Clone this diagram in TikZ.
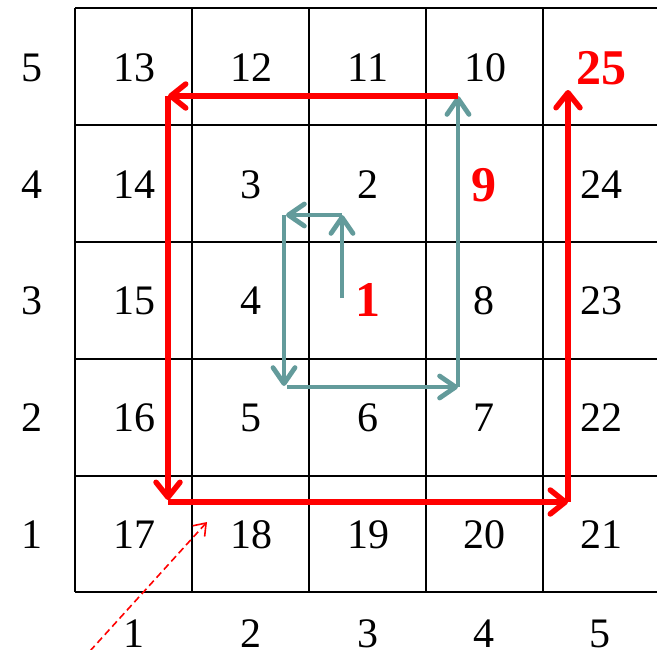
\documentclass[tikz,border=0pt]{standalone}
\usepackage{fontspec}
\setmainfont{Liberation Serif}
\usetikzlibrary{arrows.meta}
\definecolor{teal1}{RGB}{99,155,155}
\definecolor{red1}{RGB}{255,0,0}
\begin{document}
\begin{tikzpicture}[x=1pt,y=-1pt,
  num/.style={font=\fontsize{42}{42}\selectfont, inner sep=0pt},
  rnum/.style={font=\fontsize{50}{50}\selectfont\bfseries, text=red1, inner sep=0pt},
  lab/.style={font=\fontsize{42}{42}\selectfont, inner sep=0pt},
  redarr/.style={draw=red1, line width=5.5pt, -{Straight Barb[length=15pt,width=24pt,round]}},
  tealarr/.style={draw=teal1, line width=4.8pt, -{Straight Barb[length=16pt,width=22pt,round]}},
  dasharr/.style={draw=red1, line width=1.6pt, dash pattern=on 7pt off 4pt, -{Straight Barb[length=11pt,width=16pt]}},
  gridline/.style={draw=black, line width=1.8pt}
]
\useasboundingbox (0,0) rectangle (657,649);
% grid
\foreach \x in {75,192,309,426,543,660} \draw[gridline] (\x,8) -- (\x,592);
\foreach \y in {8,125,242,359,476,592} \draw[gridline] (75,\y) -- (660,\y);
% row labels
\node[lab] (r5) at (32,68) {5};
\node[lab] (r4) at (32,185) {4};
\node[lab] (r3) at (32,301) {3};
\node[lab] (r2) at (32,418) {2};
\node[lab] (r1) at (32,535) {1};
% column labels
\node[lab] (c1) at (134,634) {1};
\node[lab] (c2) at (251,634) {2};
\node[lab] (c3) at (368,634) {3};
\node[lab] (c4) at (484,634) {4};
\node[lab] (c5) at (600,634) {5};
% cell numbers
\node[num] (n13) at (134,68) {13};
\node[num] (n12) at (251,68) {12};
\node[num] (n11) at (368,68) {11};
\node[num] (n10) at (485,68) {10};
\node[rnum] (n25) at (601,68) {25};
\node[num] (n14) at (134,185) {14};
\node[num] (n3) at (251,185) {3};
\node[num] (n2) at (368,185) {2};
\node[rnum] (n9) at (484,185) {9};
\node[num] (n24) at (601,185) {24};
\node[num] (n15) at (134,301) {15};
\node[num] (n4) at (251,301) {4};
\node[rnum] (n1) at (368,300) {1};
\node[num] (n8) at (484,301) {8};
\node[num] (n23) at (601,301) {23};
\node[num] (n16) at (134,418) {16};
\node[num] (n5) at (251,418) {5};
\node[num] (n6) at (368,418) {6};
\node[num] (n7) at (484,418) {7};
\node[num] (n22) at (601,418) {22};
\node[num] (n17) at (134,535) {17};
\node[num] (n18) at (251,535) {18};
\node[num] (n19) at (368,535) {19};
\node[num] (n20) at (484,535) {20};
\node[num] (n21) at (601,535) {21};
% path coordinates
\coordinate (t0) at (342,298);
\coordinate (t1) at (342,215);
\coordinate (t2) at (286,215);
\coordinate (t2b) at (284,215);
\coordinate (t3) at (284,386);
\coordinate (t3b) at (287,387);
\coordinate (t4) at (458,387);
\coordinate (t5) at (458,96);
\coordinate (p1) at (168,96);
\coordinate (p2) at (168,500);
\coordinate (p2b) at (168,502);
\coordinate (p3) at (568,502);
\coordinate (p4) at (568,90);
\coordinate (d0) at (90,651);
\coordinate (d1) at (207,522);
% teal arrows
\draw[tealarr] (t0) -- (t1);
\draw[tealarr] (t1) -- (t2);
\draw[tealarr] (t2b) -- (t3);
\draw[tealarr] (t3b) -- (t4);
\draw[tealarr] (t4) -- (t5);
% red arrows
\draw[redarr] (t5) -- (p1);
\draw[redarr] (p1) -- (p2);
\draw[redarr] (p2b) -- (p3);
\draw[redarr] (p3) -- (p4);
% dashed arrow
\draw[dasharr] (d0) -- (d1);
\end{tikzpicture}
\end{document}
